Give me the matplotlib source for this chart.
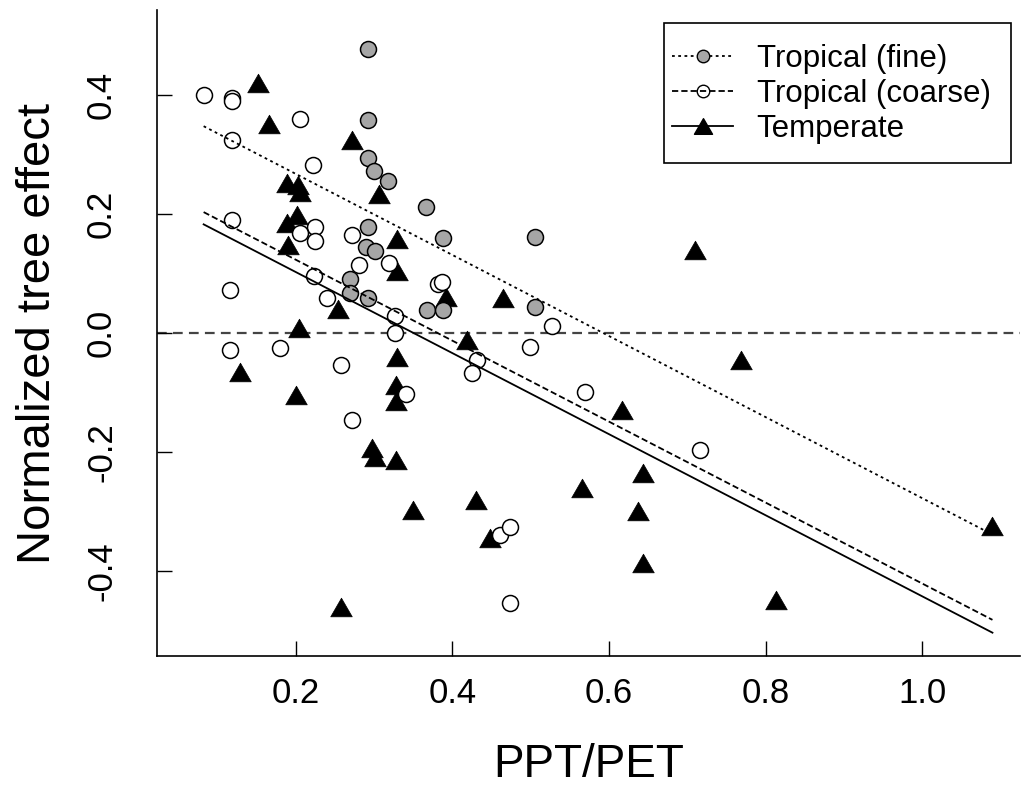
import matplotlib
matplotlib.use("Agg")
import matplotlib.pyplot as plt
import numpy as np
from matplotlib.path import Path
from matplotlib.patches import Rectangle
from matplotlib.lines import Line2D

plt.rcParams['font.family'] = ['Liberation Sans', 'DejaVu Sans']
plt.rcParams['lines.scale_dashes'] = False

# Tropical (fine) - grey filled circles
fine_x = [0.292, 0.292, 0.292, 0.300, 0.318, 0.366, 0.388, 0.505, 0.292,
          0.290, 0.301, 0.269, 0.269, 0.292, 0.367, 0.388, 0.505]
fine_y = [0.478, 0.358, 0.294, 0.273, 0.256, 0.212, 0.159, 0.162, 0.178,
          0.145, 0.138, 0.091, 0.068, 0.058, 0.038, 0.038, 0.044]

# Tropical (coarse) - open circles
coarse_x = [0.082, 0.118, 0.118, 0.205, 0.118, 0.222, 0.118, 0.224, 0.205,
            0.224, 0.271, 0.280, 0.319, 0.116, 0.223, 0.382, 0.386, 0.239,
            0.326, 0.326, 0.116, 0.180, 0.258, 0.341, 0.271, 0.527, 0.499,
            0.431, 0.425, 0.569, 0.716, 0.461, 0.474, 0.473]
coarse_y = [0.400, 0.395, 0.390, 0.360, 0.325, 0.283, 0.190, 0.179, 0.168,
            0.154, 0.165, 0.115, 0.117, 0.073, 0.095, 0.083, 0.086, 0.058,
            0.028, 0.000, -0.029, -0.026, -0.054, -0.103, -0.147, 0.011, -0.023,
            -0.045, -0.067, -0.100, -0.197, -0.339, -0.326, -0.454]

# Temperate - filled triangles
temp_x = [0.152, 0.165, 0.272, 0.188, 0.203, 0.205, 0.306, 0.201, 0.188,
          0.329, 0.190, 0.329, 0.392, 0.254, 0.204, 0.465, 0.419, 0.329,
          0.128, 0.200, 0.328, 0.328, 0.297, 0.301, 0.328, 0.350, 0.430,
          0.448, 0.258, 0.710, 0.769, 0.616, 0.643, 0.565, 0.637, 0.643,
          0.814, 1.090]
temp_y = [0.421, 0.352, 0.325, 0.253, 0.249, 0.237, 0.234, 0.198, 0.185,
          0.158, 0.148, 0.104, 0.060, 0.041, 0.008, 0.058, -0.012, -0.040,
          -0.065, -0.104, -0.087, -0.115, -0.194, -0.208, -0.213, -0.297, -0.281,
          -0.345, -0.460, 0.139, -0.045, -0.129, -0.236, -0.261, -0.300, -0.387,
          -0.449, -0.324]

# fitted lines (intercept, slope)
fine_fit = (0.4035, -0.681)
coarse_fit = (0.259, -0.680)
temp_fit = (0.2385, -0.681)

labels = ['Tropical (fine)', 'Tropical (coarse)', 'Temperate']
xticks = [0.2, 0.4, 0.6, 0.8, 1.0]
xtick_labels = ['0.2', '0.4', '0.6', '0.8', '1.0']
yticks = [-0.4, -0.2, 0.0, 0.2, 0.4]
ytick_labels = ['-0.4', '-0.2', '0.0', '0.2', '0.4']

# equilateral triangle like R pch 17
tri = Path([(-1, -0.866), (1, -0.866), (0, 0.866), (-1, -0.866)],
           [Path.MOVETO, Path.LINETO, Path.LINETO, Path.CLOSEPOLY])

fig = plt.figure(figsize=(10.25, 7.98), dpi=100)
ax = fig.add_axes([157/1025, 1 - 656/798, (1020-157)/1025, (656-10)/798])

ax.axhline(0, color='#444444', lw=1.6, ls=(0, (7, 4.5)), zorder=1)

ax.plot(temp_x, temp_y, ls='none', marker=tri, ms=15.5, mfc='black',
        mec='black', mew=0.5, zorder=2)
ax.plot(coarse_x, coarse_y, ls='none', marker='o', ms=11.5, mfc='white',
        mec='black', mew=1.1, zorder=3)
ax.plot(fine_x, fine_y, ls='none', marker='o', ms=11.5, mfc='#a6a6a6',
        mec='black', mew=1.1, zorder=4)

all_x = np.concatenate([fine_x, coarse_x, temp_x])
xl = np.array([all_x.min(), all_x.max()])
ax.plot(xl, fine_fit[0] + fine_fit[1]*xl, color='black', lw=1.3,
        ls=(0, (2, 2.5)), zorder=5)
ax.plot(xl, coarse_fit[0] + coarse_fit[1]*xl, color='black', lw=1.3,
        ls=(0, (4.5, 2.2)), zorder=5)
ax.plot(xl, temp_fit[0] + temp_fit[1]*xl, color='black', lw=1.3,
        ls='-', zorder=5)

ax.set_xlim(0.0224, 1.1252)
ax.set_ylim(-0.543, 0.543)
ax.spines['top'].set_visible(False)
ax.spines['right'].set_visible(False)
ax.spines['left'].set_linewidth(1.2)
ax.spines['bottom'].set_linewidth(1.2)
ax.set_xticks(xticks)
ax.set_xticklabels(xtick_labels)
ax.set_yticks(yticks)
ax.set_yticklabels(ytick_labels, rotation=90, va='center')
ax.tick_params(direction='in', length=11, width=1.0, labelsize=25)
ax.tick_params(axis='x', pad=15)
ax.tick_params(axis='y', pad=28)
ax.set_xlabel('PPT/PET', fontsize=33, labelpad=24)
ax.set_ylabel('Normalized tree effect', fontsize=34, labelpad=18)

# legend
ax.add_patch(Rectangle((0.5875, 0.763), 0.402, 0.217, transform=ax.transAxes,
                       fill=False, ec='black', lw=1.2, zorder=6, clip_on=False))
handles = [
    Line2D([], [], color='black', lw=1.3, ls=(0, (2, 2.5)), marker='o', ms=9,
           mfc='#a6a6a6', mec='black', mew=1.0),
    Line2D([], [], color='black', lw=1.3, ls=(0, (4.5, 2.2)), marker='o', ms=9,
           mfc='none', mec='black', mew=1.0),
    Line2D([], [], color='black', lw=1.3, ls='-', marker=tri, ms=13,
           mfc='black', mec='black'),
]
ax.legend(handles, labels, loc='center left', bbox_to_anchor=(0.5968, 0.870),
          frameon=False, fontsize=22.5, borderpad=0, labelspacing=0.15,
          handlelength=1.96, handletextpad=0.75, numpoints=1, borderaxespad=0)

fig.savefig('out.png', dpi=100)
